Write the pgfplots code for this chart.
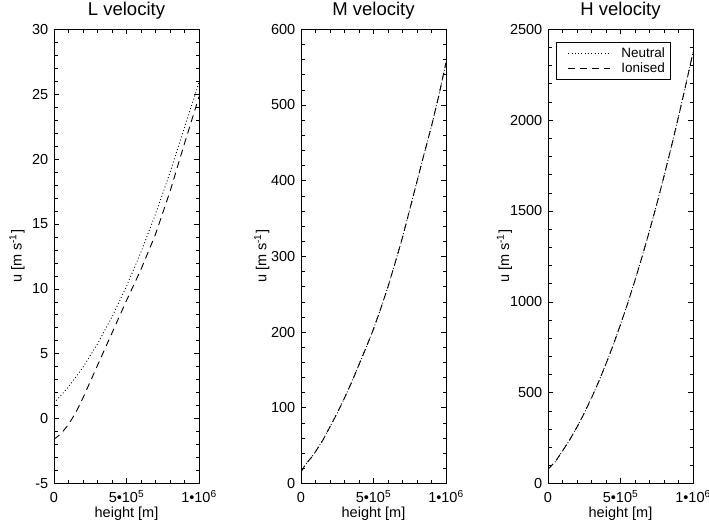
\documentclass[border=0pt]{standalone}
\usepackage{pgfplots}
\pgfplotsset{compat=1.18}
\usepackage{fontspec}
\setmainfont{Liberation Sans}

\pgfplotstableread{
x y
0 1.2
100000 2.44
200000 3.96
300000 5.76
400000 7.84
500000 10.2
600000 12.84
700000 15.76
800000 18.96
900000 22.44
1000000 25.9
}\Lneu
\pgfplotstableread{
x y
0 -1.6
50000 -1.15
100000 -0.45
150000 0.45
200000 1.6
300000 4.1
400000 6.6
500000 9.1
600000 11.5
700000 14.2
800000 17.5
900000 21.2
1000000 24.8
}\Lion
\pgfplotstableread{
x y
0 15
30000 25
70000 34
100000 42
150000 57
200000 75
250000 93
300000 113
350000 134
400000 157
450000 180
500000 204
550000 231
600000 260
650000 292
700000 325
750000 362
800000 399
850000 436
900000 472
950000 512
1000000 556
}\Mvel
\pgfplotstableread{
x y
0 78
50000 120
100000 179
150000 241
200000 311
250000 387
300000 471
350000 561
400000 659
450000 763
500000 875
550000 993
600000 1119
650000 1251
700000 1391
750000 1537
800000 1691
850000 1851
900000 2019
950000 2193
1000000 2372
}\Hvel

\pgfplotsset{
  myax/.style={
    scale only axis, width=145pt, height=454.2pt,
    xmin=0, xmax=1000000, xtick={0,500000,1000000},
    xticklabels={0,5•10\textsuperscript{5},1•10\textsuperscript{6}},
    minor x tick num=4, scaled x ticks=false, scaled y ticks=false,
    tick align=inside, major tick length=5pt, minor tick length=3.5pt,
    axis line style={line width=0.8pt},
    tick style={line width=0.6pt, black},
    /pgf/number format/assume math mode=true,
    /pgf/number format/set thousands separator={},
    ticklabel style={font=\fontsize{14.5}{16}\selectfont},
    xticklabel style={anchor=base, yshift=-19.2pt},
    yticklabel style={anchor=east, xshift=-2.2pt},
    label style={font=\fontsize{14.5}{16}\selectfont},
    xlabel={height [m]},
    xlabel style={at={(axis description cs:0.5,0)}, anchor=base, yshift=-33.8pt},
    ylabel={u [m s\textsuperscript{-1}]},
    title style={font=\fontsize{18.5}{21}\selectfont, at={(axis description cs:0.5,1)}, anchor=base, yshift=7.6pt},
    neu/.style={black, line width=0.9pt, dash pattern=on 0.9pt off 2.4pt},
    ion/.style={black, line width=0.9pt, dash pattern=on 7pt off 5pt},
  }
}

\begin{document}
\begin{tikzpicture}
\path[use as bounding box] (0,0) rectangle (709pt,526pt);

\begin{axis}[myax, at={(54pt,42.5pt)}, anchor=south west,
  title={L velocity},
  ymin=-5, ymax=30, ytick={-5,0,...,30}, minor y tick num=4,
  ylabel style={at={(axis description cs:-0.255,0.5)}, anchor=center}]
\addplot[neu] table {\Lneu};
\addplot[ion] table {\Lion};
\end{axis}

\begin{axis}[myax, at={(301pt,42.5pt)}, anchor=south west,
  title={M velocity},
  ymin=0, ymax=600, ytick={0,100,...,600}, minor y tick num=4,
  ylabel style={at={(axis description cs:-0.27,0.5)}, anchor=center}]
\addplot[neu] table {\Mvel};
\addplot[ion] table {\Mvel};
\end{axis}

\begin{axis}[myax, at={(548pt,42.5pt)}, anchor=south west,
  title={H velocity},
  ymin=0, ymax=2500, ytick={0,500,...,2500}, minor y tick num=4,
  ylabel style={at={(axis description cs:-0.30,0.5)}, anchor=center},
  legend style={at={(axis description cs:0.055,0.971)}, anchor=north west,
    draw=black, line width=0.6pt, inner xsep=5pt, inner ysep=3.5pt,
    nodes={inner sep=0pt},
    font=\fontsize{13.5}{15}\selectfont, row sep=0pt, column sep=0pt},
  legend cell align=left,
  legend image code/.code={\path[draw=none,fill=none] (0pt,-7.5pt) rectangle (60pt,7.5pt);
    \draw[#1] (7pt,0pt) -- (49pt,0pt);}]
\addplot[neu] table {\Hvel};
\addlegendentry{Neutral}
\addplot[ion] table {\Hvel};
\addlegendentry{Ionised}
\end{axis}
\end{tikzpicture}
\end{document}
